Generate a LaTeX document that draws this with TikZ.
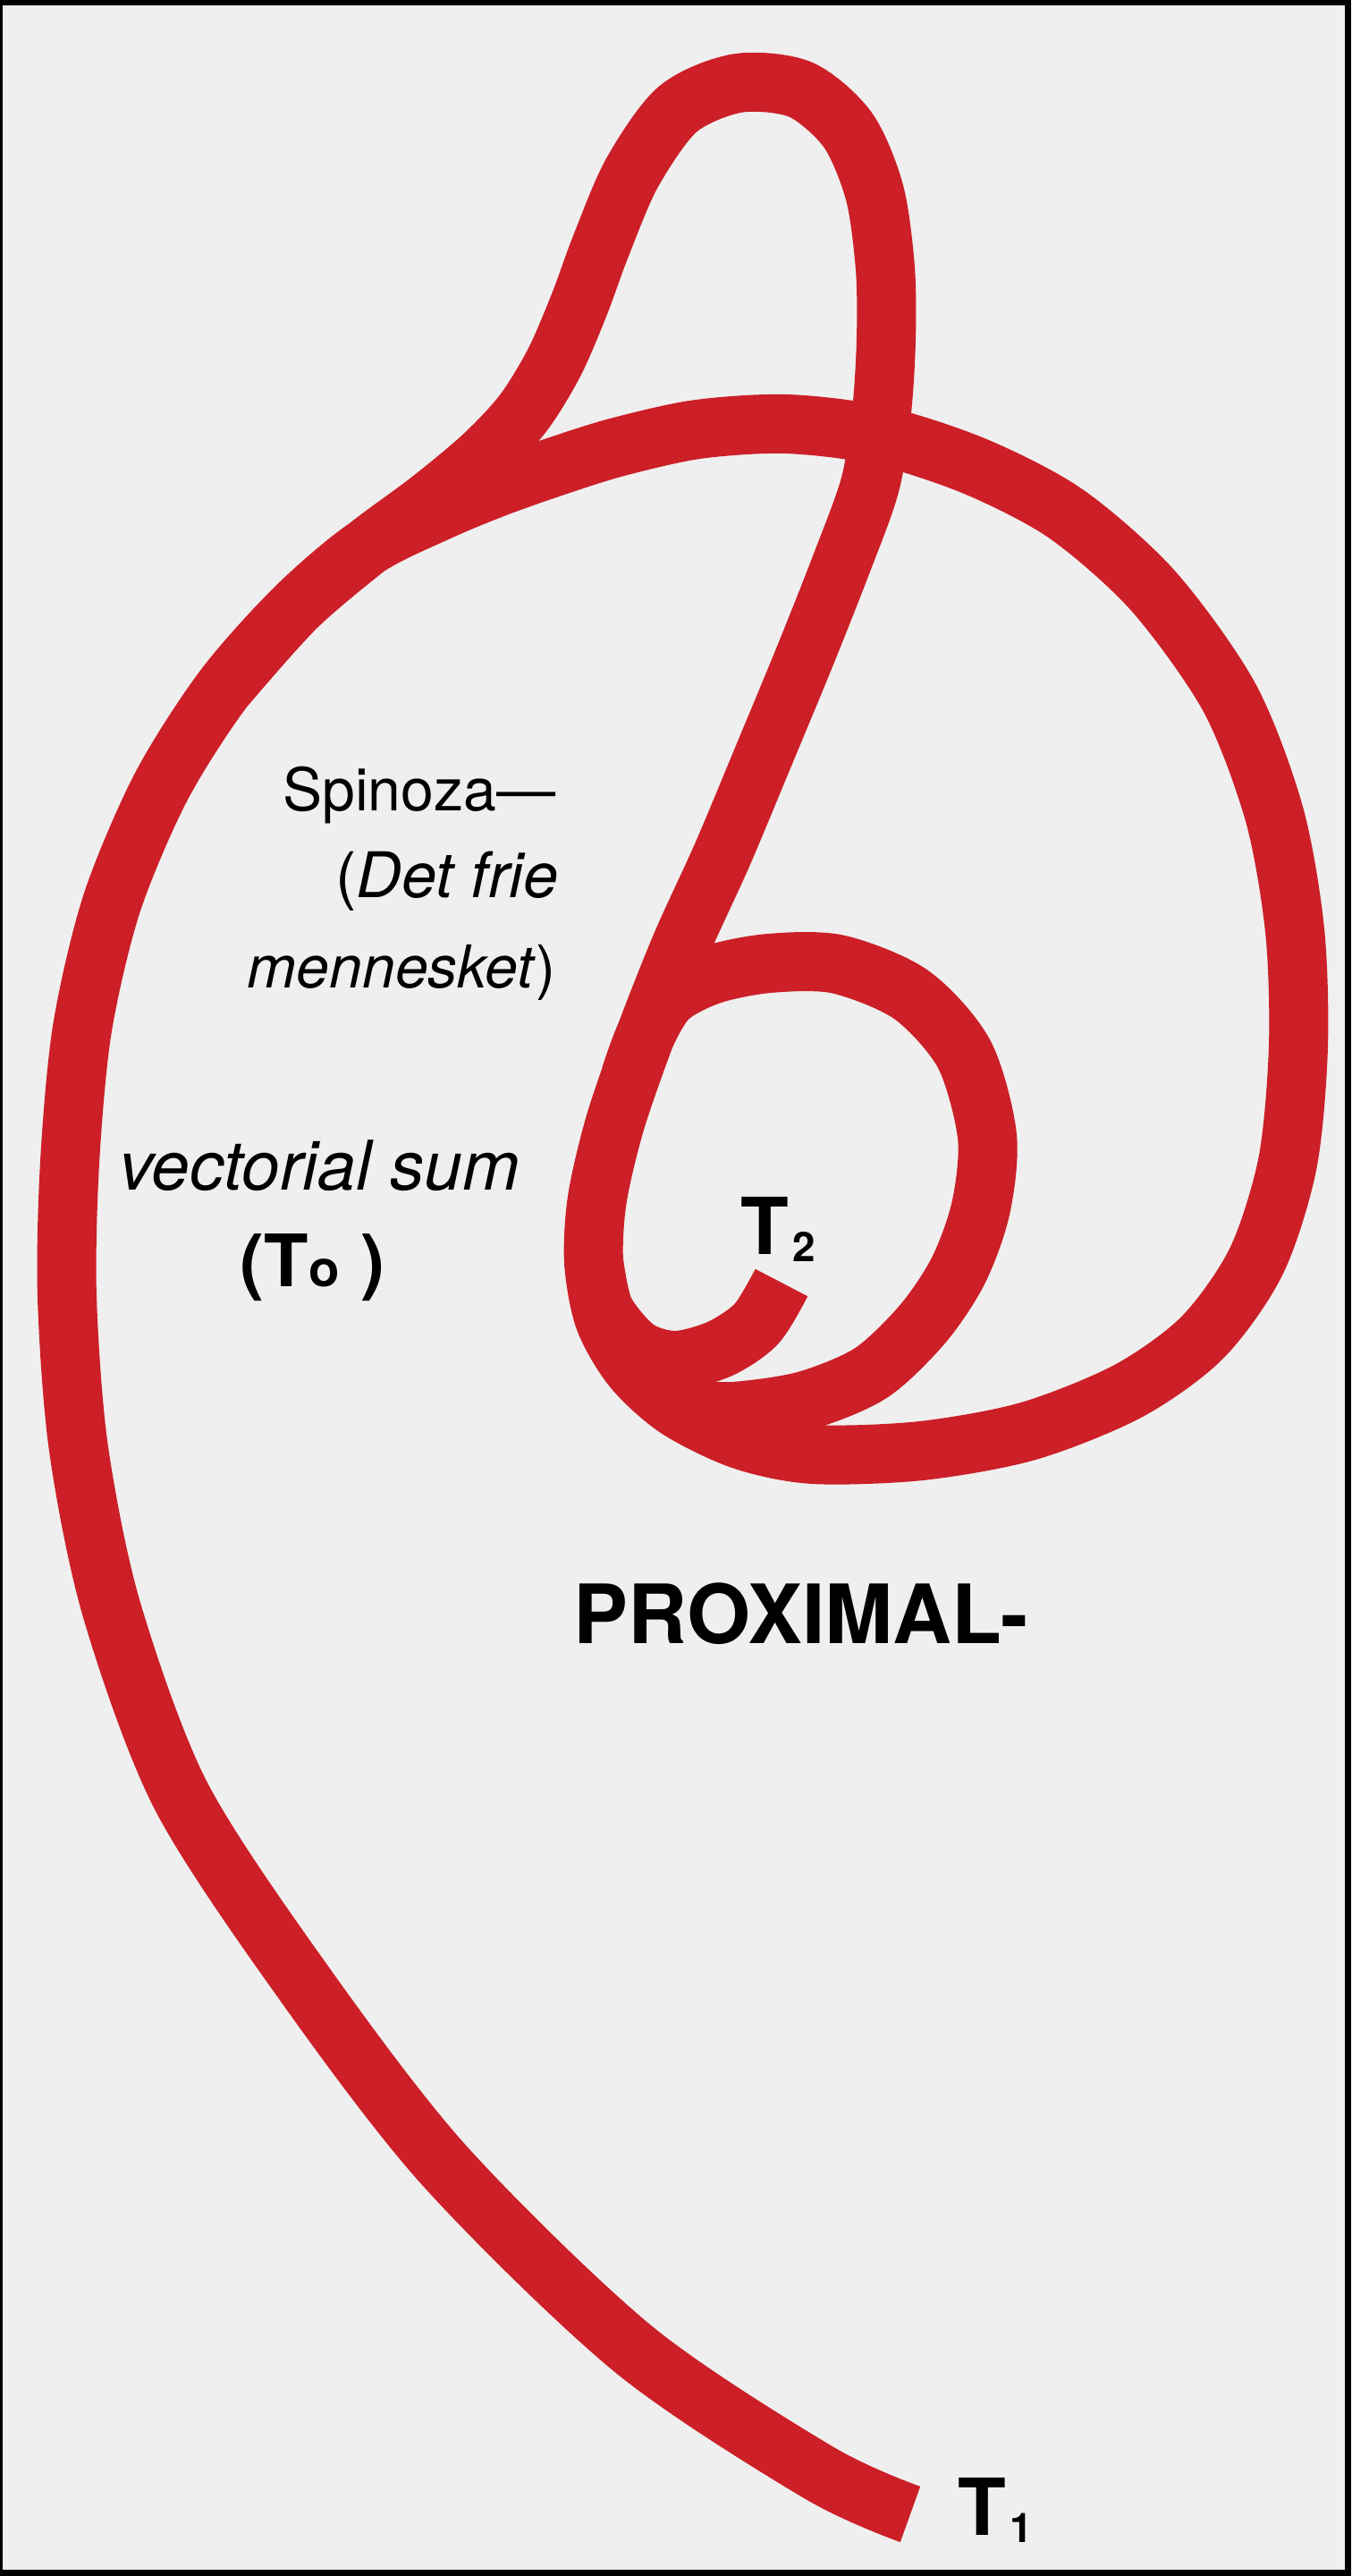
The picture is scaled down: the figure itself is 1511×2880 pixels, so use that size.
\documentclass[tikz,border=0pt]{standalone}
\usepackage{fontspec}
\setmainfont{TeX Gyre Heros}
\definecolor{rosso}{RGB}{204,31,39}
\definecolor{fondo}{RGB}{239,239,239}
\tikzset{
    filo/.style={draw=rosso, line width=0.66cm, line join=round},
    testo/.style={inner sep=0pt, font=\fontsize{18.8}{22}\selectfont},
    etichetta/.style={inner sep=0pt, font=\bfseries\fontsize{25}{30}\selectfont}
}
\newcommand{\pedice}[1]{\kern0.05em\raisebox{-0.1em}{\fontsize{13}{15}\selectfont #1}}

\begin{document}
\begin{tikzpicture}[x=0.01cm, y=-0.01cm]
    \useasboundingbox (0,0) rectangle (1511,2880);
    % Cornice
    \fill[black] (0,0) rectangle (1511,2880);
    \fill[fondo] (3,6) rectangle (1504,2873);
    % Filo principale: da T1 su per il lato sinistro, asola in alto, diagonale, giro grande
    \draw[filo] plot[smooth] coordinates {
        (1018,2811) (915,2764) (708,2626) (496,2420) (337,2213) (202,2007)
        (125,1800) (88,1620) (75,1450) (78,1300) (92,1150) (125,1010)
        (180,880) (250,770) (330,680) (410,612) (480,560) (540,510)
        (585,462) (620,405) (648,340) (672,275) (707,193) (758,122) (825,93)
        (895,100) (948,145) (978,215) (990,300) (991,380) (986,460) (973,542)
        (940,633) (900,734) (854,845) (808,955) (762,1056) (722,1157)
        (688,1255) (668,1340) (664,1410) (676,1475) (708,1530) (758,1575)
        (830,1610) (910,1626) (1030,1622) (1150,1600) (1262,1555)
        (1345,1495) (1405,1410) (1440,1300) (1452,1170) (1448,1040)
        (1425,910) (1375,780) (1290,661) (1193,575) (1092,522) (985,487)
        (880,474) (780,480) (690,500) (620,522) (555,545) (490,572)
        (410,612) (330,680) (250,770)};
    % Anello interno
    \draw[filo] plot[smooth] coordinates {
        (705,1203) (722,1157) (748,1115) (795,1090) (860,1077) (937,1078)
        (1019,1112) (1078,1178) (1104,1270) (1097,1350) (1072,1420)
        (1032,1480) (974,1535) (900,1566) (820,1578) (770,1575)};
    % Uncino verso T2
    \draw[filo] plot[smooth] coordinates {
        (664,1410) (676,1465) (712,1508) (755,1521) (805,1508) (846,1480)
        (874,1434)};
    % Testi
    \node[testo, anchor=base east] (spin1) at (622,906) {Spinoza—};
    \node[testo, font=\fontsize{20}{24}\selectfont, anchor=base east]
        (spin2) at (625,1003) {(\textit{Det frie}};
    \node[testo, anchor=base east] (spin3) at (622,1104) {\textit{mennesket})};
    \node[inner sep=0pt, anchor=base east, font=\itshape\fontsize{21.8}{26}\selectfont]
        (somma) at (582,1330) {vectorial sum};
    \node[etichetta, font=\bfseries\fontsize{23}{28}\selectfont, anchor=base west]
        (t0) at (268,1438) {(T{\fontsize{16}{19}\selectfont o}\kern0.3em)};
    \node[etichetta, anchor=base west] (t2) at (828,1402) {T\pedice{2}};
    \node[etichetta, anchor=base west] (t1) at (1071,2834) {T\pedice{1}};
    \node[etichetta, font=\bfseries\fontsize{26}{31}\selectfont, anchor=base west]
        (prox) at (641,1837) {PROXIMAL-};
\end{tikzpicture}
\end{document}
